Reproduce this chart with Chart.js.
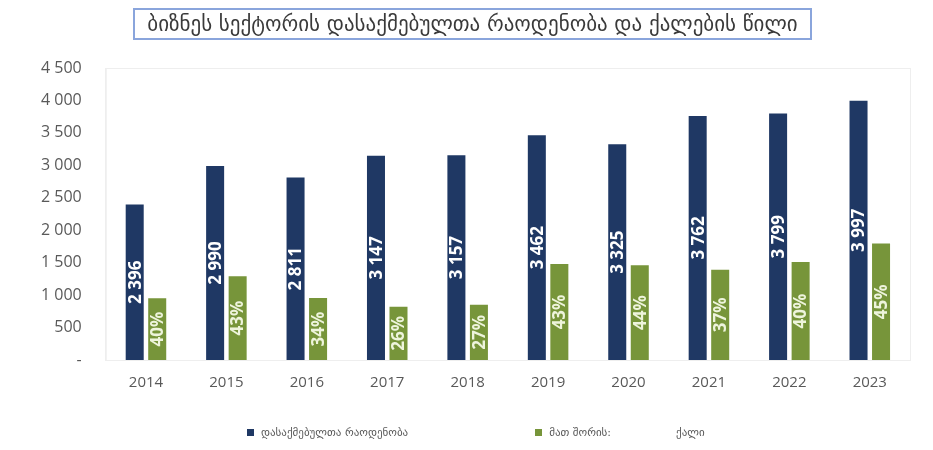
<!DOCTYPE html>
<html lang="ka">
<head>
  <meta charset="UTF-8">
  <title>ბიზნეს სექტორის დასაქმებულთა რაოდენობა</title>
  <style>
    html, body { margin: 0; padding: 0; background: #fff; }
    #wrap { position: relative; width: 933px; height: 450px; }
    #chart { position: absolute; left: 0; top: 0; }
    #title {
      position: absolute; left: 133px; top: 8px; width: 679px; height: 32px;
      border: 2px solid #8aa5dc; box-sizing: border-box;
      font-family: "DejaVu Sans", sans-serif; font-size: 21px; color: #3a3a3a;
      text-align: center; line-height: 28px; white-space: nowrap;
    }
    #legend {
      position: absolute; left: 247px; top: 422px; height: 20px;
      display: flex; gap: 127px;
      font-family: "DejaVu Sans", sans-serif; font-size: 11px; color: #595959;
    }
    #legend span.item { display: flex; align-items: center; white-space: nowrap; }
    #legend i { display: inline-block; width: 7px; height: 7px; margin-right: 7px; }
    #legend b { display: inline-block; width: 65px; }
  </style>
</head>
<body>
<div id="wrap">
  <canvas id="chart" width="933" height="450"></canvas>
  <div id="title">ბიზნეს სექტორის დასაქმებულთა რაოდენობა და ქალების წილი</div>
  <div id="legend"></div>
</div>

<script src="https://cdn.jsdelivr.net/npm/chart.js"></script>
<script>
  // მონაცემები
  const years = ['2014', '2015', '2016', '2017', '2018', '2019', '2020', '2021', '2022', '2023'];
  const employed = [2396, 2990, 2811, 3147, 3157, 3462, 3325, 3762, 3799, 3997];
  const women = [950, 1290, 955, 820, 850, 1480, 1460, 1390, 1510, 1795];
  const womenShare = ['40%', '43%', '34%', '26%', '27%', '43%', '44%', '37%', '40%', '45%'];
  const seriesNames = ['დასაქმებულთა რაოდენობა', 'მათ შორის:  ქალი'];
  const seriesColors = ['#1f3864', '#77953a'];

  function fmt(v) {
    return String(v).replace(/\B(?=(\d{3})+(?!\d))/g, ' ');
  }

  // ლეგენდა
  const legendEl = document.getElementById('legend');
  seriesNames.forEach((name, i) => {
    const item = document.createElement('span');
    item.className = 'item';
    item.innerHTML = '<i style="background:' + seriesColors[i] + '"></i>' +
      name.split('  ').join('<b></b>');
    legendEl.appendChild(item);
  });

  // ბარების შიგნით ვერტიკალური წარწერები
  const barLabels = {
    id: 'barLabels',
    afterDatasetsDraw(chart) {
      const ctx = chart.ctx;
      chart.data.datasets.forEach((ds, di) => {
        const meta = chart.getDatasetMeta(di);
        meta.data.forEach((el, i) => {
          const text = di === 0 ? fmt(ds.data[i]) : womenShare[i];
          ctx.save();
          ctx.translate(el.x, (el.y + el.base) / 2);
          ctx.rotate(-Math.PI / 2);
          ctx.font = 'bold 17px "Open Sans", sans-serif';
          ctx.fillStyle = di === 0 ? '#ffffff' : '#eef4dc';
          ctx.textAlign = 'center';
          ctx.textBaseline = 'middle';
          ctx.fillText(text, 0, 1);
          ctx.restore();
        });
      });
    }
  };

  // ნახაზის არის ჩარჩო
  const areaFrame = {
    id: 'areaFrame',
    beforeDatasetsDraw(chart) {
      const a = chart.chartArea;
      const ctx = chart.ctx;
      ctx.save();
      ctx.strokeStyle = '#eeeeee';
      ctx.lineWidth = 1;
      ctx.strokeRect(a.left + 0.5, a.top + 0.5, a.right - a.left, a.bottom - a.top);
      ctx.restore();
    }
  };

  new Chart(document.getElementById('chart'), {
    type: 'bar',
    data: {
      labels: years,
      datasets: [{
        label: seriesNames[0],
        data: employed,
        backgroundColor: seriesColors[0],
        categoryPercentage: 0.56,
        barPercentage: 0.8
      }, {
        label: seriesNames[1],
        data: women,
        backgroundColor: seriesColors[1],
        categoryPercentage: 0.56,
        barPercentage: 0.8
      }]
    },
    options: {
      responsive: false,
      animation: false,
      layout: { padding: { top: 68, left: 17, right: 23, bottom: 44 } },
      plugins: {
        legend: { display: false },
        title: { display: false },
        tooltip: { enabled: false }
      },
      scales: {
        x: {
          grid: { display: false, drawTicks: false },
          border: { color: '#d9d9d9' },
          ticks: {
            color: '#595959',
            padding: 14,
            font: { family: '"Open Sans", sans-serif', size: 15 }
          }
        },
        y: {
          min: 0,
          max: 4500,
          grid: { display: false, drawTicks: false },
          border: { color: '#eeeeee' },
          ticks: {
            stepSize: 500,
            color: '#595959',
            padding: 24,
            font: { family: '"Open Sans", sans-serif', size: 16 },
            callback: v => v === 0 ? '-' : fmt(v)
          }
        }
      }
    },
    plugins: [areaFrame, barLabels]
  });
</script>
</body>
</html>
